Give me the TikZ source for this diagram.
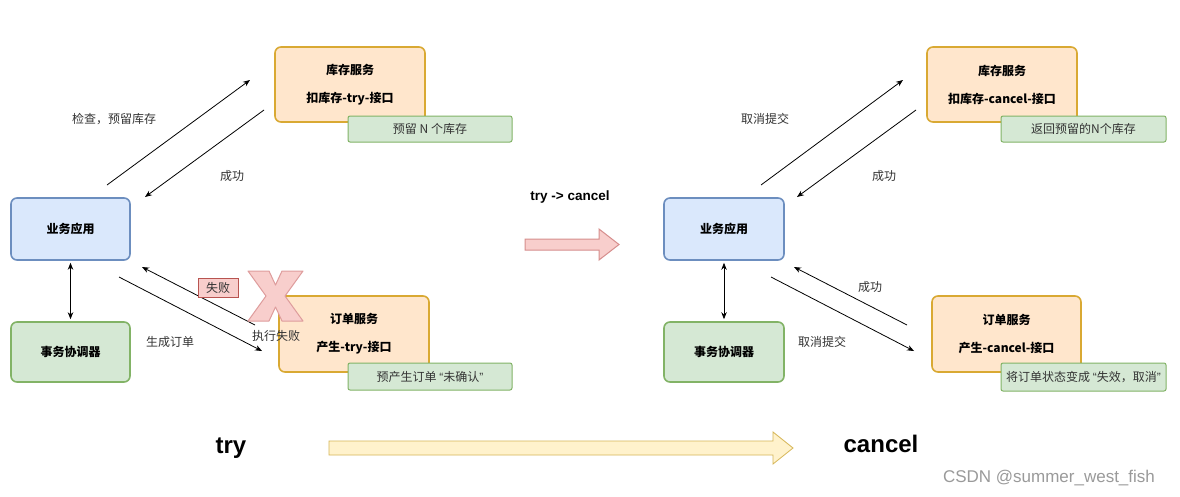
\documentclass[tikz,border=0pt]{standalone}
\usepackage{fontspec}
\setmainfont{Liberation Sans}
\newfontfamily\cjk{Noto Sans CJK SC}
\newfontfamily\lat{Liberation Sans}
\usetikzlibrary{arrows.meta}
\definecolor{blueF}{HTML}{DAE8FC}
\definecolor{blueD}{HTML}{6C8EBF}
\definecolor{greenF}{HTML}{D5E8D4}
\definecolor{greenD}{HTML}{82B366}
\definecolor{orangeF}{HTML}{FFE6CC}
\definecolor{orangeD}{HTML}{D9A933}
\definecolor{pinkF}{HTML}{F8CECC}
\definecolor{pinkD}{HTML}{B85450}
\definecolor{pinkL}{HTML}{DE9C9C}
\definecolor{yellowF}{HTML}{FFF2CC}
\definecolor{yellowD}{HTML}{D6B656}
\definecolor{txt}{HTML}{333333}
\definecolor{wm}{HTML}{9A9A9A}
\newcommand{\myLq}{{\lat “}}
\newcommand{\myRq}{{\lat ”}}
\tikzset{
  cjkfont/.style={font=\cjk\fontsize{12}{16}\selectfont},
  box/.style={draw, line width=1.6pt, rounded corners=6pt, cjkfont, align=center, inner sep=0pt, text=black},
  bluebox/.style={box, fill=blueF, draw=blueD},
  greenbox/.style={box, fill=greenF, draw=greenD},
  orangebox/.style={box, fill=orangeF, draw=orangeD},
  notebox/.style={draw=greenD, fill=greenF, line width=1pt, rounded corners=2pt, cjkfont, text=txt, inner sep=0pt},
  failbox/.style={draw=pinkD, fill=pinkF, line width=0.8pt, cjkfont, text=txt, inner sep=0pt},
  lbl/.style={cjkfont, text=txt, inner sep=1pt},
  conn/.style={line width=0.8pt, -{Stealth[length=7pt,width=5.5pt]}},
  dconn/.style={line width=0.8pt, {Stealth[length=7pt,width=5.5pt]}-{Stealth[length=7pt,width=5.5pt]}},
  bigtxt/.style={font=\bfseries\fontsize{24}{28}\selectfont, inner sep=0pt},
}
\begin{document}
\begin{tikzpicture}[x=1pt,y=-1pt]
\useasboundingbox (0,0) rectangle (1180,496);
\fill[white] (0,0) rectangle (1180,496);

% ---------------- left (try) ----------------
\node[orangebox, minimum width=150pt, minimum height=75pt] (inv1) at (350,84.5) {\bfseries 库存服务\\[12pt]\bfseries 扣库存-try-接口};
\node[notebox, minimum width=164pt, minimum height=26pt] (note1) at (430,129) {预留 N 个库存};
\node[bluebox, minimum width=119pt, minimum height=62pt] (app1) at (70.5,229) {\bfseries 业务应用};
\node[greenbox, minimum width=119pt, minimum height=60pt] (coord1) at (70.5,352) {\bfseries 事务协调器};
\node[orangebox, minimum width=150pt, minimum height=76pt] (ord1) at (354,334) {\bfseries 订单服务\\[12pt]\bfseries 产生-try-接口};
\node[notebox, minimum width=164pt, minimum height=27pt] (note2) at (430,376.5) {预产生订单 \myLq 未确认\myRq};

\coordinate (a1s) at (107,185); \coordinate (a1e) at (250,80);
\coordinate (a2s) at (264,110); \coordinate (a2e) at (145,197);
\coordinate (a3s) at (119,277); \coordinate (a3e) at (262,351);
\coordinate (a4s) at (255,325); \coordinate (a4e) at (142,267);
\draw[conn] (a1s) -- (a1e);
\draw[conn] (a2s) -- (a2e);
\path (app1.south) ++(0,2) coordinate (d1s) (coord1.north) ++(0,-2) coordinate (d1e);
\draw[dconn] (d1s) -- (d1e);
\draw[conn] (a3s) -- (a3e);
\draw[conn] (a4s) -- (a4e);

\node[lbl] (l1) at (114,119) {检查，预留库存};
\node[lbl] (l2) at (232,176) {成功};
\node[lbl] (l3) at (170,342) {生成订单};
\node[failbox, minimum width=40pt, minimum height=19pt] (fail) at (218,287.5) {失败};

% X mark
\begin{scope}[shift={(248,271)}]
\draw[fill=pinkF, draw=pinkL, line width=1pt, line join=round]
  (0,0) -- (21,0) -- (27.5,14) -- (34,0) -- (55,0) -- (37,25) -- (55,50) -- (34,50)
  -- (27.5,36) -- (21,50) -- (0,50) -- (18,25) -- cycle;
\end{scope}
\node[lbl] (l4) at (276,336) {执行失败};

% ---------------- middle ----------------
\node[font=\bfseries\fontsize{13.5}{16}\selectfont, inner sep=0pt] (mid) at (570,197) {try -> cancel};
\draw[fill=pinkF, draw=pinkL!80!pinkD, line width=1pt, line join=miter]
  (525,239) -- (599,239) -- (599,229) -- (619,244.5) -- (599,260) -- (599,250) -- (525,250) -- cycle;

% ---------------- right (cancel) ----------------
\node[orangebox, minimum width=150pt, minimum height=75pt] (inv2) at (1002,84.5) {\bfseries 库存服务\\[12pt]\bfseries 扣库存-cancel-接口};
\node[notebox, minimum width=165pt, minimum height=26pt] (note3) at (1083.5,129) {返回预留的N个库存};
\node[bluebox, minimum width=120pt, minimum height=62pt] (app2) at (724,229) {\bfseries 业务应用};
\node[greenbox, minimum width=120pt, minimum height=60pt] (coord2) at (724,352) {\bfseries 事务协调器};
\node[orangebox, minimum width=149pt, minimum height=76pt] (ord2) at (1006.5,334) {\bfseries 订单服务\\[12pt]\bfseries 产生-cancel-接口};
\node[notebox, minimum width=165pt, minimum height=28pt] (note4) at (1083.5,377) {将订单状态变成 \myLq 失效，取消\myRq};

\coordinate (b1s) at (761,185); \coordinate (b1e) at (903,80);
\coordinate (b2s) at (916,110); \coordinate (b2e) at (797,197);
\coordinate (b3s) at (771,277); \coordinate (b3e) at (914,351);
\coordinate (b4s) at (907,325); \coordinate (b4e) at (794,267);
\draw[conn] (b1s) -- (b1e);
\draw[conn] (b2s) -- (b2e);
\path (app2.south) ++(0,2) coordinate (d2s) (coord2.north) ++(0,-2) coordinate (d2e);
\draw[dconn] (d2s) -- (d2e);
\draw[conn] (b3s) -- (b3e);
\draw[conn] (b4s) -- (b4e);

\node[lbl] (r1) at (765,119) {取消提交};
\node[lbl] (r2) at (884,176) {成功};
\node[lbl] (r3) at (822,342) {取消提交};
\node[lbl] (r4) at (870,287) {成功};

% ---------------- bottom ----------------
\node[bigtxt] (try) at (231,448) {try};
\draw[fill=yellowF, draw=yellowD, line width=0.8pt]
  (329,441) -- (773,441) -- (773,432) -- (793,448) -- (773,464) -- (773,455) -- (329,455) -- cycle;
\node[bigtxt] (cancel) at (881,444) {cancel};
\node[font=\fontsize{17}{20}\selectfont, text=wm, inner sep=0pt] (wmk) at (1049,478) {CSDN @summer\_west\_fish};
\end{tikzpicture}
\end{document}
